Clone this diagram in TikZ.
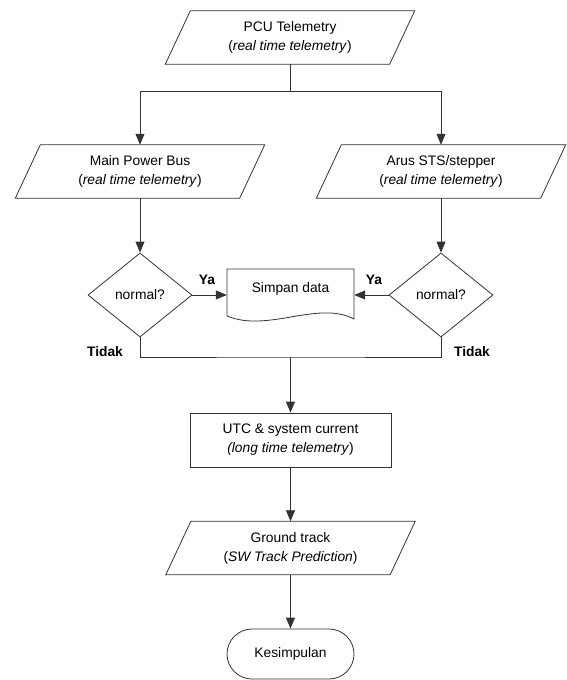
\documentclass[tikz,border=0pt]{standalone}
\usepackage{fontspec}
\setmainfont{Liberation Sans}
\usetikzlibrary{shapes.geometric,shapes.misc,arrows.meta}
\newcommand\drawpara[1]{\draw[shapeline] ([xshift=12.5pt]#1.north west) -- ([xshift=12.5pt]#1.north east) -- ([xshift=-12.5pt]#1.south east) -- ([xshift=-12.5pt]#1.south west) -- cycle;}
\begin{document}
\begin{tikzpicture}[x=1pt,y=-1pt,
  txt/.style={font=\fontsize{13.8pt}{19pt}\selectfont, align=center, inner sep=0pt},
  shapeline/.style={draw=black!80, line width=0.8pt},
  parabox/.style={txt, rectangle, minimum width=224pt, minimum height=53pt},
  decide/.style={txt, diamond, shapeline, minimum width=104pt, minimum height=84pt},
  procbox/.style={txt, rectangle, shapeline, minimum width=201pt, minimum height=54pt},
  termbox/.style={txt, rounded rectangle, shapeline, minimum width=127pt, minimum height=50pt},
  lbl/.style={font=\fontsize{13.8pt}{16pt}\selectfont\bfseries, inner sep=0pt},
  conn/.style={draw=black!80, line width=0.8pt},
  arr/.style={conn, -{Triangle[length=11pt,width=9pt]}}
]
\useasboundingbox (0,0) rectangle (566,680);

% parallelograms
\node[parabox] (pcu) at (290,37.5) {PCU Telemetry\\(\textit{real time telemetry})};
\drawpara{pcu}
\node[parabox] (mpb) at (140,171.5) {Main Power Bus\\(\textit{real time telemetry})};
\drawpara{mpb}
\node[parabox] (arus) at (441,171.5) {Arus STS/stepper\\(\textit{real time telemetry})};
\drawpara{arus}

% decisions
\node[decide] (dl) at (140,295) {normal?};
\node[decide] (dr) at (441,295) {normal?};

% document
\node[txt, rectangle, minimum width=127pt, minimum height=40pt] (doc) at (290.5,289) {Simpan data};
\draw[shapeline] (227,316) -- (227,269) -- (354,269) -- (354,319)
  .. controls (318,300) and (268,333) .. (227,316);

% process
\node[procbox] (utc) at (290.5,440) {UTC \& system current\\\textit{(long time telemetry})};

\node[parabox] (gt) at (290.5,548) {Ground track\\(\textit{SW Track Prediction})};
\drawpara{gt}

\node[termbox] (kes) at (290.5,654) {Kesimpulan};

% labels
\node[lbl] (ya1) at (207,280) {Ya};
\node[lbl] (ya2) at (374,280) {Ya};
\node[lbl] (td1) at (105,352) {Tidak};
\node[lbl] (td2) at (472,352) {Tidak};

% connectors
\coordinate (split) at (290,91);
\coordinate (join) at (290.5,357);
\draw[conn] (pcu.south) -- (split);
\draw[arr] (split) -| (mpb.north);
\draw[arr] (split) -| (arus.north);
\draw[arr] (mpb.south) -- (dl.north);
\draw[arr] (arus.south) -- (dr.north);
\draw[arr] (dl.east) -- (dl.east -| doc.west);
\draw[arr] (dr.west) -- (dr.west -| doc.east);
\draw[conn] (dl.south) |- (join) -| (dr.south);
\draw[arr] (join) -- (utc.north);
\draw[arr] (utc.south) -- (gt.north);
\draw[arr] (gt.south) -- (kes.north);
\end{tikzpicture}
\end{document}
